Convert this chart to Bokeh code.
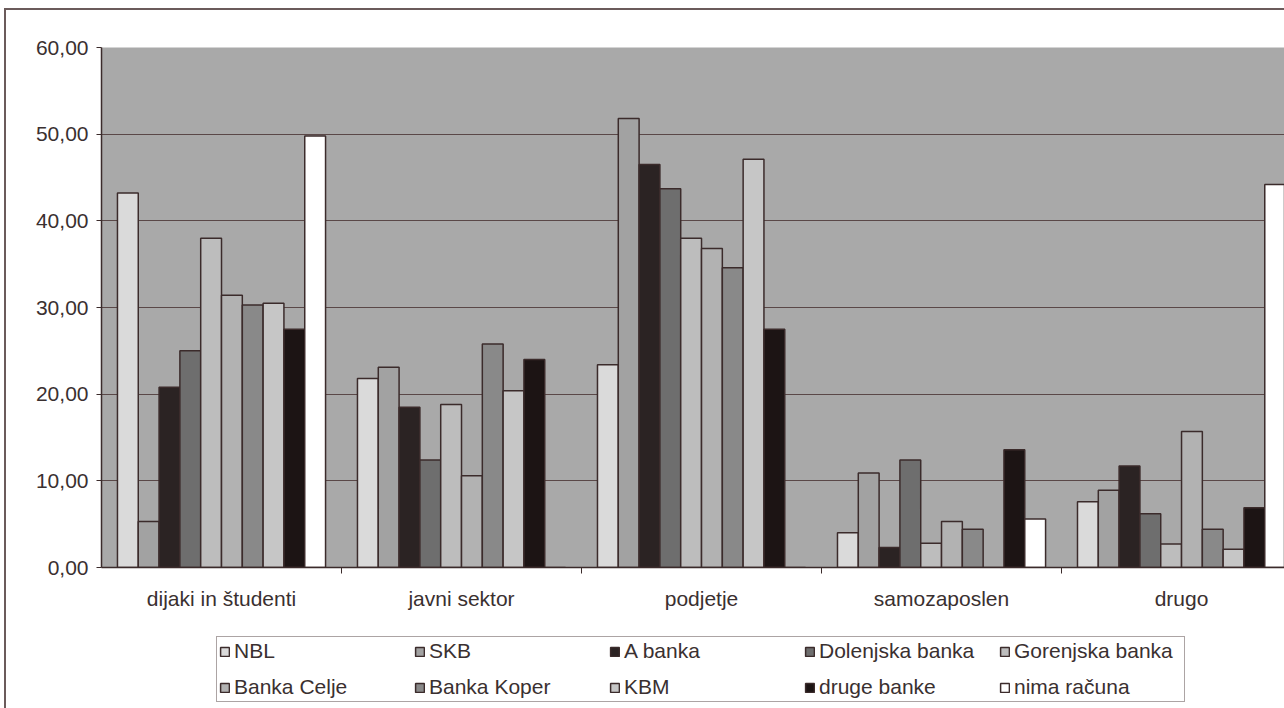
from bokeh.plotting import figure
from bokeh.layouts import column
from bokeh.models import ColumnDataSource, FixedTicker, Range1d, Legend, LegendItem
from bokeh.embed import file_html
from bokeh.resources import INLINE

categories = ["dijaki in študenti", "javni sektor", "podjetje", "samozaposlen", "drugo"]
banks = ["NBL", "SKB", "A banka", "Dolenjska banka", "Gorenjska banka",
         "Banka Celje", "Banka Koper", "KBM", "druge banke", "nima računa"]

NBL = [43.2, 21.8, 23.4, 4.0, 7.6]
SKB = [5.3, 23.1, 51.8, 10.9, 8.9]
A_banka = [20.8, 18.5, 46.5, 2.3, 11.7]
Dolenjska = [25.0, 12.4, 43.7, 12.4, 6.2]
Gorenjska = [38.0, 18.8, 38.0, 2.8, 2.7]
Banka_Celje = [31.4, 10.6, 36.8, 5.3, 15.7]
Banka_Koper = [30.3, 25.8, 34.6, 4.4, 4.4]
KBM = [30.5, 20.4, 47.1, 0.0, 2.1]
druge_banke = [27.5, 24.0, 27.5, 13.6, 6.9]
nima_racuna = [49.8, 0.0, 0.0, 5.6, 44.2]

series = [NBL, SKB, A_banka, Dolenjska, Gorenjska, Banka_Celje, Banka_Koper, KBM, druge_banke, nima_racuna]
colors = ["#dadada", "#a2a2a2", "#2b2323", "#6e6e6e", "#bdbdbd",
          "#b2b2b2", "#898989", "#c6c6c6", "#1c1414", "#ffffff"]

y_ticks = [0, 10, 20, 30, 40, 50, 60]
y_labels = ["0,00", "10,00", "20,00", "30,00", "40,00", "50,00", "60,00"]

FONT = "Liberation Sans"
TXT = "#3a3030"
DARK = "#3b2b2b"

p = figure(frame_width=1183, frame_height=520, output_backend="svg", toolbar_location=None,
           x_range=Range1d(0, 4.929), y_range=Range1d(0, 60),
           min_border_left=101, min_border_right=0, min_border_top=47, min_border_bottom=53)
p.background_fill_color = "#a9a9a9"
p.border_fill_color = None
p.outline_line_color = None

# legend panel (separate figure below the chart); its renderers share the data
# but are hidden, so only the legend is visible
p2 = figure(frame_width=1284, frame_height=88, output_backend="svg", toolbar_location=None,
            x_range=Range1d(100, 101), y_range=Range1d(100, 101), x_axis_type=None, y_axis_type=None,
            min_border_left=0, min_border_right=0, min_border_top=0, min_border_bottom=0)
p2.background_fill_color = None
p2.border_fill_color = None
p2.outline_line_color = None

bw = 0.0867
items = []
for j, (name, vals, col) in enumerate(zip(banks, series, colors)):
    xs = [i + 0.5 + (j - 4.5) * bw for i in range(len(categories))]
    src = ColumnDataSource(dict(x=xs, top=vals))
    p.vbar(x="x", top="top", width=bw, bottom=0, source=src,
           fill_color=col, line_color=DARK, line_width=1.5)
    r = p2.vbar(x="x", top="top", width=bw, bottom=0, source=src,
                fill_color=col, line_color=DARK, line_width=1.5)
    r.visible = False
    items.append(LegendItem(label=name, renderers=[r]))

# axes
p.xaxis.ticker = FixedTicker(ticks=[i + 0.5 for i in range(len(categories))],
                             minor_ticks=list(range(1, len(categories))))
p.xaxis.major_label_overrides = {i + 0.5: c for i, c in enumerate(categories)}
p.xaxis.major_tick_out = 0
p.xaxis.major_tick_in = 0
p.xaxis.minor_tick_out = 6
p.xaxis.minor_tick_in = 0
p.xaxis.major_label_standoff = 13
p.yaxis.ticker = FixedTicker(ticks=y_ticks, minor_ticks=[])
p.yaxis.major_label_overrides = {t: l for t, l in zip(y_ticks, y_labels)}
p.yaxis.major_tick_out = 5
p.yaxis.major_tick_in = 0
p.yaxis.major_label_standoff = 8
for ax in (p.xaxis, p.yaxis):
    ax.axis_line_color = DARK
    ax.axis_line_width = 1.5
    ax.major_tick_line_color = DARK
    ax.minor_tick_line_color = DARK
    ax.major_label_text_font = FONT
    ax.major_label_text_font_size = "21px"
    ax.major_label_text_color = TXT

p.xgrid.grid_line_color = None
p.ygrid.grid_line_color = "#5a4848"
p.ygrid.grid_line_width = 1.2

legend = Legend(items=items, orientation="horizontal", nrows=2, location=(216, 6))
legend.label_text_font = FONT
legend.label_text_font_size = "21px"
legend.label_text_color = TXT
legend.glyph_width = 11
legend.glyph_height = 11
legend.label_standoff = 4
legend.label_width = 168
legend.label_height = 22
legend.spacing = 12
legend.padding = 2
legend.margin = 0
legend.inactive_fill_alpha = 0
legend.border_line_color = "#5a4a4a"
legend.border_line_width = 1.5
legend.background_fill_color = "white"
p2.add_layout(legend, "center")

layout = column(p, p2, spacing=0)
layout.styles = {"box-shadow": "inset 4px 8px 0 0 white, inset 6px 10px 0 0 #6b5b5b"}

open("out.html", "w").write(file_html(layout, INLINE))
